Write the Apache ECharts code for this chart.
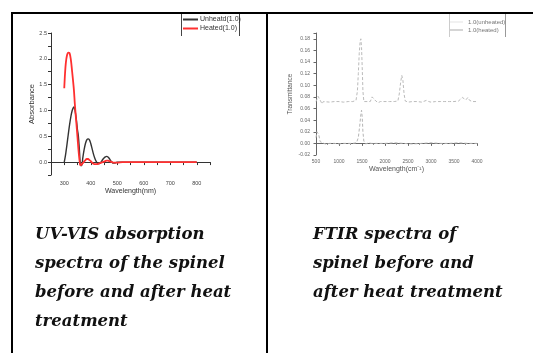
<!DOCTYPE html>
<html>
<head>
<meta charset="utf-8">
<script src="https://cdn.jsdelivr.net/npm/echarts@6/dist/echarts.min.js"></script>
<style>
  html, body { margin: 0; padding: 0; background: #fff; }
  #chart { width: 533px; height: 353px; }
</style>
</head>
<body>
<div id="chart"></div>
<script>
// UV-VIS (left panel)
const uvWavelength = [300, 303, 306, 310, 315, 320, 325, 330, 335, 337, 340, 345, 350, 353, 357, 360, 363, 367, 370, 375, 380, 385, 390, 395, 400, 405, 410, 415, 420, 425, 430, 435, 440, 445, 450, 455, 460, 465, 470, 475, 480, 485, 490, 495, 500, 520, 550, 600, 650, 700, 750, 800];
const uvUnheated = [0.00, 0.08, 0.18, 0.33, 0.53, 0.72, 0.88, 1.00, 1.06, 1.07, 1.02, 0.85, 0.62, 0.52, 0.25, 0.00, -0.07, -0.05, 0.08, 0.24, 0.36, 0.43, 0.45, 0.43, 0.36, 0.26, 0.16, 0.08, 0.02, -0.02, -0.03, -0.02, 0.01, 0.05, 0.08, 0.10, 0.11, 0.10, 0.07, 0.03, 0.00, -0.02, -0.02, -0.01, 0.00, 0.00, 0.00, 0.00, 0.00, 0.00, 0.00, 0.00];
const uvHeated = [1.43, 1.72, 1.92, 2.06, 2.12, 2.11, 1.98, 1.74, 1.48, 1.36, 1.12, 0.80, 0.48, 0.28, 0.06, -0.05, -0.06, -0.04, -0.02, 0.01, 0.04, 0.06, 0.06, 0.04, 0.02, -0.01, -0.03, -0.04, -0.04, -0.04, -0.03, -0.02, -0.01, 0.00, 0.01, 0.02, 0.03, 0.03, 0.02, 0.01, 0.00, -0.01, -0.01, -0.01, -0.01, 0.00, 0.00, 0.00, 0.00, 0.00, 0.00, 0.00];
const uvYLabels = ['0.0', '0.5', '1.0', '1.5', '2.0', '2.5'];

// FTIR (right panel)
const irUnheatedX = [500, 520, 545, 570, 600, 630, 660, 700, 800, 900, 1000, 1100, 1200, 1300, 1370, 1400, 1420, 1440, 1460, 1475, 1490, 1505, 1520, 1540, 1580, 1620, 1680, 1720, 1760, 1800, 1850, 1900, 2000, 2100, 2200, 2280, 2310, 2340, 2365, 2390, 2415, 2440, 2500, 2600, 2700, 2800, 2900, 2950, 3000, 3100, 3200, 3300, 3400, 3500, 3600, 3680, 3720, 3760, 3800, 3840, 3900, 4000];
const irUnheatedY = [0.072, 0.076, 0.081, 0.080, 0.073, 0.068, 0.072, 0.073, 0.071, 0.072, 0.072, 0.071, 0.072, 0.072, 0.074, 0.090, 0.120, 0.155, 0.176, 0.180, 0.165, 0.130, 0.090, 0.072, 0.070, 0.072, 0.072, 0.080, 0.081, 0.073, 0.070, 0.072, 0.072, 0.072, 0.072, 0.073, 0.085, 0.105, 0.117, 0.108, 0.085, 0.073, 0.071, 0.072, 0.072, 0.071, 0.074, 0.072, 0.071, 0.072, 0.072, 0.072, 0.072, 0.072, 0.073, 0.079, 0.080, 0.075, 0.079, 0.074, 0.072, 0.072];
const irHeatedX = [500, 520, 540, 560, 590, 620, 700, 800, 900, 1000, 1100, 1200, 1300, 1380, 1420, 1450, 1475, 1490, 1505, 1520, 1540, 1580, 1650, 1700, 1800, 2000, 2200, 2400, 2600, 2800, 3000, 3200, 3400, 3600, 3800, 4000];
const irHeatedY = [0.010, 0.020, 0.023, 0.015, 0.003, 0.000, -0.001, 0.000, 0.000, -0.001, 0.000, 0.000, 0.000, 0.001, 0.010, 0.030, 0.050, 0.057, 0.045, 0.020, 0.004, -0.001, 0.001, 0.000, 0.000, 0.000, 0.001, 0.000, -0.001, 0.000, 0.001, 0.000, 0.000, 0.001, 0.000, 0.000];

const pair = (xs, ys) => xs.map((x, i) => [x, ys[i]]);

const sans = '"Liberation Sans", Arial, sans-serif';
const serif = '"DejaVu Serif", serif';

const chart = echarts.init(document.getElementById('chart'));
chart.setOption({
  animation: false,
  backgroundColor: '#fff',
  textStyle: { fontFamily: sans },
  grid: [
    { left: 51, top: 33, width: 159, height: 142 },
    { left: 316, top: 33, width: 161, height: 122 }
  ],
  xAxis: [
    {
      gridIndex: 0, type: 'value', min: 250, max: 850, interval: 50,
      name: 'Wavelength(nm)', nameLocation: 'middle', nameGap: 13,
      nameTextStyle: { fontSize: 7, color: '#333' },
      axisLine: { show: true, lineStyle: { color: '#333', width: 1 } },
      axisTick: { show: true, length: 3, lineStyle: { color: '#333' } },
      axisLabel: { fontSize: 5.5, color: '#444', margin: 5, formatter: v => v % 100 === 0 ? String(v) : '' },
      splitLine: { show: false }
    },
    {
      gridIndex: 1, type: 'value', min: 500, max: 4000, interval: 500,
      name: 'Wavelength(cm⁻¹)', nameLocation: 'middle', nameGap: 11,
      nameTextStyle: { fontSize: 7, color: '#555' },
      axisLine: { show: true, lineStyle: { color: '#666', width: 1 } },
      axisTick: { show: true, length: 2.5, lineStyle: { color: '#666' } },
      minorTick: { show: true, splitNumber: 2, length: 1.5, lineStyle: { color: '#888' } },
      axisLabel: { fontSize: 5, color: '#666', margin: 4, formatter: v => String(v) },
      splitLine: { show: false }
    }
  ],
  yAxis: [
    {
      gridIndex: 0, type: 'value', min: -0.25, max: 2.5, interval: 0.25,
      name: 'Absorbance', nameLocation: 'middle', nameGap: 12, nameRotate: 90,
      nameTextStyle: { fontSize: 7.5, color: '#333' },
      axisLine: { show: true, lineStyle: { color: '#333', width: 1 } },
      axisTick: { show: true, length: 3, lineStyle: { color: '#333' } },
      axisLabel: {
        fontSize: 5.5, color: '#444', margin: 4,
        formatter: v => {
          const s = v.toFixed(1);
          return uvYLabels.includes(s) && Math.abs(v * 2 - Math.round(v * 2)) < 1e-6 ? s : '';
        }
      },
      splitLine: { show: false }
    },
    {
      gridIndex: 1, type: 'value', min: -0.02, max: 0.19, interval: 0.02,
      name: 'Transmittance', nameLocation: 'middle', nameGap: 22, nameRotate: 90,
      nameTextStyle: { fontSize: 6.5, color: '#555' },
      axisLine: { show: true, lineStyle: { color: '#666', width: 1 } },
      axisTick: { show: true, length: 2.5, lineStyle: { color: '#666' } },
      axisLabel: {
        fontSize: 5, color: '#666', margin: 6,
        formatter: v => Math.abs(v * 50 - Math.round(v * 50)) < 1e-6 ? v.toFixed(2) : ''
      },
      splitLine: { show: false }
    }
  ],
  legend: [
    {
      data: ['Unheatd(1.0)', 'Heated(1.0)'],
      orient: 'vertical', left: 183, top: 16,
      icon: 'rect', itemWidth: 15, itemHeight: 2, itemGap: 2,
      textStyle: { fontSize: 7, color: '#333', padding: [0, 0, 0, -3] },
      padding: 0
    },
    {
      data: ['1.0(unheated)', '1.0(heated)'],
      orient: 'vertical', left: 450, top: 19,
      icon: 'rect', itemWidth: 13, itemHeight: 1, itemGap: 2,
      textStyle: { fontSize: 6, color: '#777' },
      padding: 0
    }
  ],
  series: [
    {
      name: 'Unheatd(1.0)', type: 'line', xAxisIndex: 0, yAxisIndex: 0,
      data: pair(uvWavelength, uvUnheated), smooth: 0.35, showSymbol: false,
      color: '#333', lineStyle: { color: '#333', width: 1.4 }
    },
    {
      name: 'Heated(1.0)', type: 'line', xAxisIndex: 0, yAxisIndex: 0,
      data: pair(uvWavelength, uvHeated), smooth: 0.35, showSymbol: false,
      color: '#ff3030', lineStyle: { color: '#ff3030', width: 1.8 }
    },
    {
      name: '1.0(unheated)', type: 'line', xAxisIndex: 1, yAxisIndex: 1,
      data: pair(irUnheatedX, irUnheatedY), showSymbol: false,
      color: '#e2e2e2', lineStyle: { color: '#bbb', width: 1, type: [3, 2] }
    },
    {
      name: '1.0(heated)', type: 'line', xAxisIndex: 1, yAxisIndex: 1,
      data: pair(irHeatedX, irHeatedY), showSymbol: false,
      color: '#aaa', lineStyle: { color: '#b5b5b5', width: 1, type: [3, 2] }
    }
  ],
  graphic: [
    // table borders
    { type: 'rect', shape: { x: 12, y: 12, width: 521, height: 2 }, style: { fill: '#000' } },
    { type: 'rect', shape: { x: 11, y: 12, width: 2, height: 341 }, style: { fill: '#000' } },
    { type: 'rect', shape: { x: 266, y: 12, width: 2, height: 341 }, style: { fill: '#000' } },
    // legend box sides
    { type: 'line', shape: { x1: 181.5, y1: 14, x2: 181.5, y2: 36 }, style: { stroke: '#444', lineWidth: 1 } },
    { type: 'line', shape: { x1: 239.5, y1: 14, x2: 239.5, y2: 36 }, style: { stroke: '#444', lineWidth: 1 } },
    { type: 'line', shape: { x1: 449.5, y1: 14, x2: 449.5, y2: 37 }, style: { stroke: '#ccc', lineWidth: 1 } },
    { type: 'line', shape: { x1: 505.5, y1: 14, x2: 505.5, y2: 37 }, style: { stroke: '#999', lineWidth: 1 } },
    // captions
    {
      type: 'text', left: 35, top: 220,
      style: {
        text: 'UV-VIS absorption\nspectra of the spinel\nbefore and after heat\ntreatment',
        font: 'italic bold 16.5px ' + serif, lineHeight: 29, fill: '#111'
      }
    },
    {
      type: 'text', left: 313, top: 220,
      style: {
        text: 'FTIR spectra of\nspinel before and\nafter heat treatment',
        font: 'italic bold 16.5px ' + serif, lineHeight: 29, fill: '#111'
      }
    }
  ]
});
</script>
</body>
</html>
